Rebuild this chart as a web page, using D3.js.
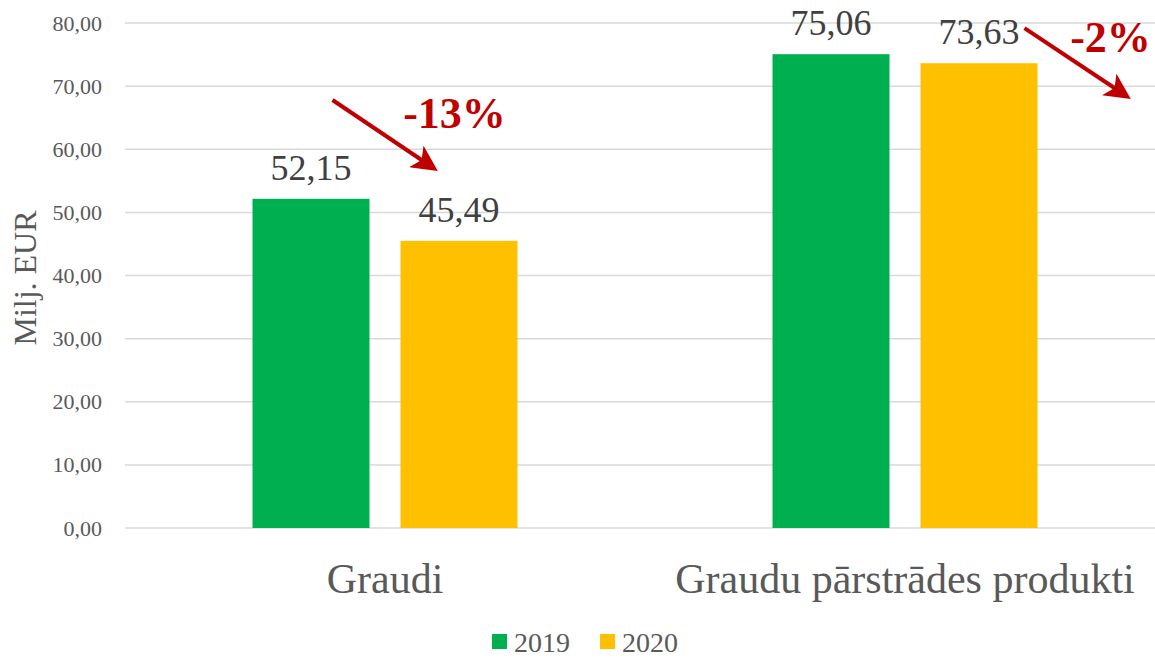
<!DOCTYPE html>
<html>
<head>
<meta charset="utf-8">
<script src="https://cdn.jsdelivr.net/npm/d3@7"></script>
<style>
  body { margin: 0; background: #fff; }
  svg { display: block; font-family: "Liberation Serif", "Times New Roman", serif; }
</style>
</head>
<body>
<div id="chart"></div>
<script>
// Data
const categories = ['Graudi', 'Graudu pārstrādes produkti'];
const years = ['2019', '2020'];
const values2019 = [52.15, 75.06];
const values2020 = [45.49, 73.63];
const yTicks = [0, 10, 20, 30, 40, 50, 60, 70, 80];
const changeLabels = ['-13%', '-2%'];

const colors = { '2019': '#00B050', '2020': '#FFC000' };

const width = 1155;
const height = 658;
const plot = { left: 125, right: 1165, top: 23, bottom: 528 };

const data = categories.map((c, i) => ({
  category: c,
  values: [
    { year: '2019', value: values2019[i] },
    { year: '2020', value: values2020[i] }
  ]
}));

const svg = d3.select('#chart')
  .append('svg')
  .attr('width', width)
  .attr('height', height);

// Scales
const x0 = d3.scaleBand()
  .domain(categories)
  .range([plot.left, plot.right])
  .paddingInner(0.4904)
  .paddingOuter(0.2452);

const x1 = d3.scaleBand()
  .domain(years)
  .range([0, x0.bandwidth()])
  .paddingInner(0.2095);

const y = d3.scaleLinear()
  .domain([0, 80])
  .range([plot.bottom, plot.top]);

// Grid lines
svg.append('g')
  .selectAll('line')
  .data(yTicks)
  .enter()
  .append('line')
  .attr('x1', plot.left)
  .attr('x2', plot.right)
  .attr('y1', (d) => y(d))
  .attr('y2', (d) => y(d))
  .attr('stroke', '#d9d9d9')
  .attr('stroke-width', 1.5);

// Y axis labels
const yAxis = d3.axisLeft(y)
  .tickValues(yTicks)
  .tickSize(0)
  .tickPadding(23)
  .tickFormat((d) => d3.format('.2f')(d).replace('.', ','));

svg.append('g')
  .attr('transform', `translate(${plot.left},0)`)
  .call(yAxis)
  .call((g) => g.select('.domain').remove())
  .selectAll('text')
  .attr('font-family', '"Liberation Serif", serif')
  .attr('font-size', 22)
  .attr('fill', '#595959');

// Y axis title
svg.append('text')
  .attr('transform', 'translate(36,278) rotate(-90)')
  .attr('text-anchor', 'middle')
  .attr('font-size', 32)
  .attr('fill', '#595959')
  .text('Milj. EUR');

// Bars
const groups = svg.selectAll('.group')
  .data(data)
  .enter()
  .append('g')
  .attr('class', 'group')
  .attr('transform', (d) => `translate(${x0(d.category)},0)`);

groups.selectAll('rect')
  .data((d) => d.values)
  .enter()
  .append('rect')
  .attr('x', (d) => x1(d.year))
  .attr('y', (d) => y(d.value))
  .attr('width', x1.bandwidth())
  .attr('height', (d) => y(0) - y(d.value))
  .attr('fill', (d) => colors[d.year]);

// Value labels
groups.selectAll('.val')
  .data((d) => d.values)
  .enter()
  .append('text')
  .attr('class', 'val')
  .attr('x', (d) => x1(d.year) + x1.bandwidth() / 2)
  .attr('y', (d) => y(d.value) - 19)
  .attr('text-anchor', 'middle')
  .attr('font-size', 36)
  .attr('fill', '#404040')
  .text((d) => d3.format('.2f')(d.value).replace('.', ','));

// Category labels
svg.append('g')
  .selectAll('text')
  .data(categories)
  .enter()
  .append('text')
  .attr('x', (d) => x0(d) + x0.bandwidth() / 2)
  .attr('y', 593)
  .attr('text-anchor', 'middle')
  .attr('font-size', 42)
  .attr('fill', '#595959')
  .text((d) => d);

// Change arrows (offsets from group start, ends in data units)
const arrows = [
  { category: 'Graudi', dx1: 80, v1: 67.8, dx2: 187, v2: 56.4, label: changeLabels[0], lx: 202, lv: 63.4 },
  { category: 'Graudu pārstrādes produkti', dx1: 252, v1: 79.2, dx2: 360, v2: 67.8, label: changeLabels[1], lx: 338, lv: 75.4 }
];

const defs = svg.append('defs');
defs.append('marker')
  .attr('id', 'head')
  .attr('viewBox', '0 0 10 10')
  .attr('refX', 8)
  .attr('refY', 5)
  .attr('markerWidth', 6.5)
  .attr('markerHeight', 6.5)
  .attr('markerUnits', 'strokeWidth')
  .attr('orient', 'auto')
  .append('path')
  .attr('d', 'M0,0 L10,5 L0,10 L2.5,5 Z')
  .attr('fill', '#C00000');

svg.append('g')
  .selectAll('line')
  .data(arrows)
  .enter()
  .append('line')
  .attr('x1', (d) => x0(d.category) + d.dx1)
  .attr('y1', (d) => y(d.v1))
  .attr('x2', (d) => x0(d.category) + d.dx2 - 6)
  .attr('y2', (d) => y(d.v2) - 4)
  .attr('stroke', '#C00000')
  .attr('stroke-width', 4)
  .attr('marker-end', 'url(#head)');

svg.append('g')
  .selectAll('text')
  .data(arrows)
  .enter()
  .append('text')
  .attr('x', (d) => x0(d.category) + d.lx)
  .attr('y', (d) => y(d.lv))
  .attr('text-anchor', 'middle')
  .attr('font-size', 44)
  .attr('font-weight', 'bold')
  .attr('fill', '#C00000')
  .text((d) => d.label);

// Legend
const legend = svg.append('g')
  .selectAll('g')
  .data(years)
  .enter()
  .append('g')
  .attr('transform', (d, i) => `translate(${492 + i * 108},634)`);

legend.append('rect')
  .attr('width', 15)
  .attr('height', 15)
  .attr('fill', (d) => colors[d]);

legend.append('text')
  .attr('x', 22)
  .attr('y', 18)
  .attr('font-size', 28)
  .attr('fill', '#595959')
  .text((d) => d);
</script>
</body>
</html>
